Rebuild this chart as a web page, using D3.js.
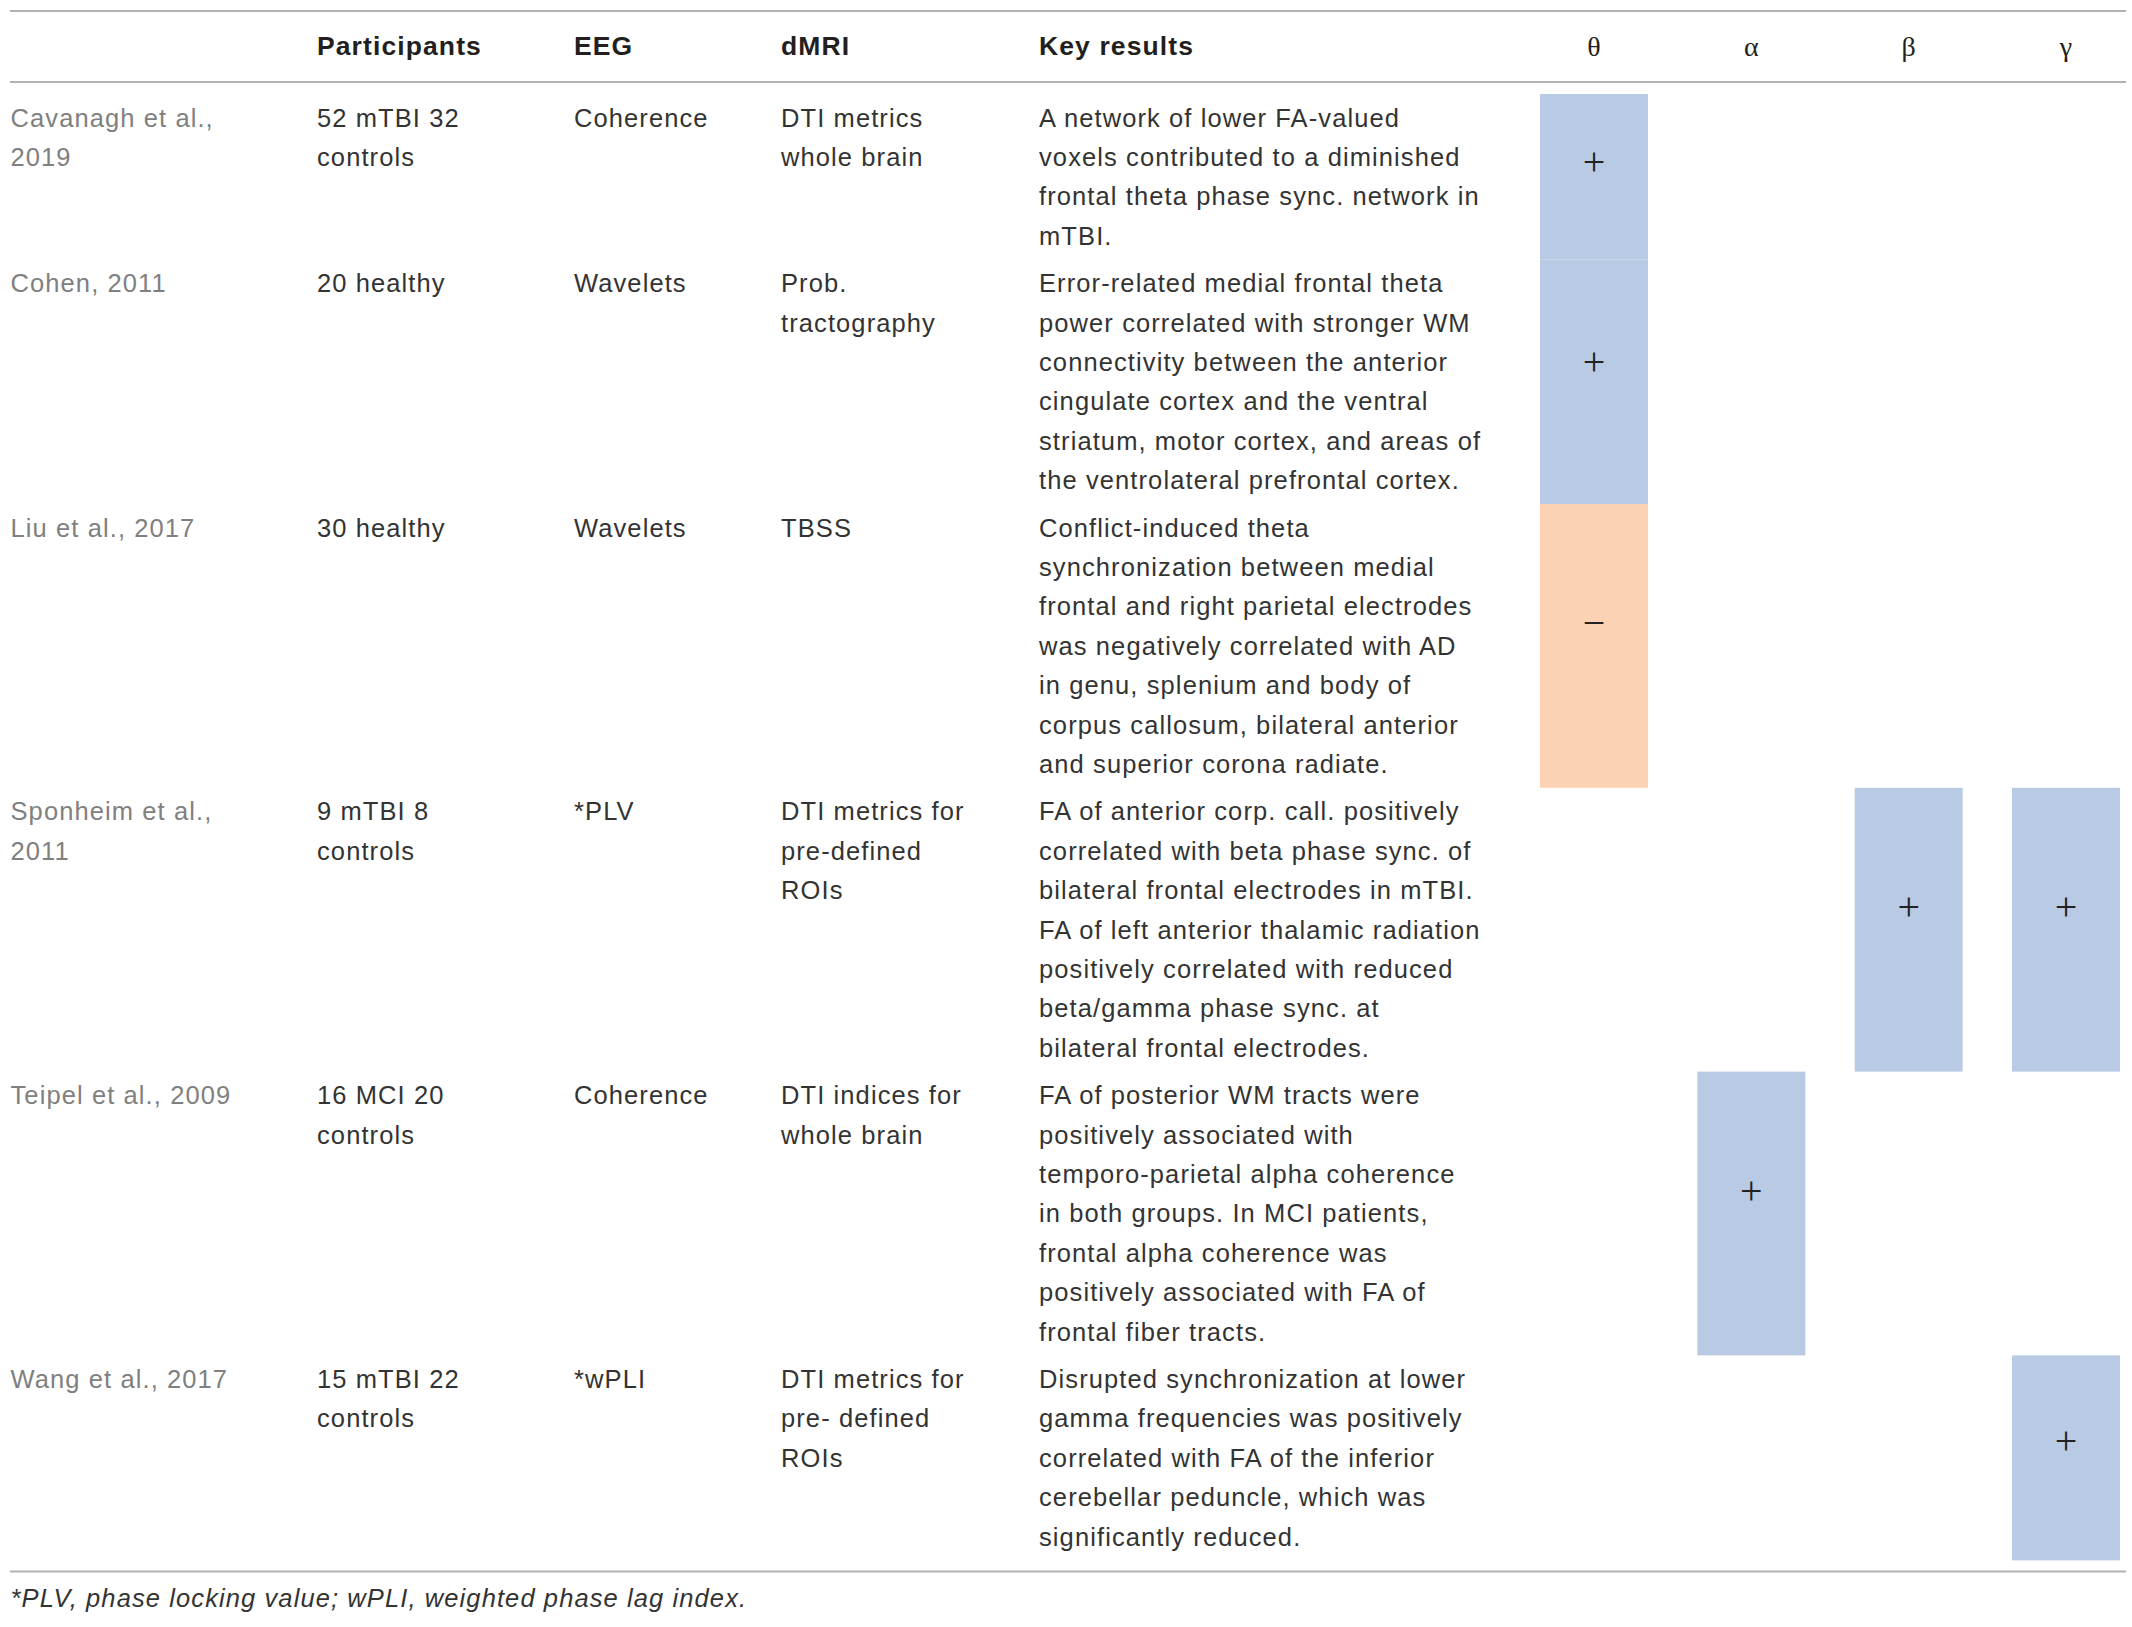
<!DOCTYPE html>
<html>
<head>
<meta charset="utf-8">
<script src="https://cdn.jsdelivr.net/npm/d3@7"></script>
<style>
	body { margin: 0; background: #fff; }
	svg { display: block; }
</style>
</head>
<body>
<div id="table"></div>
<script>

let width = 2132;
let height = 1627;

// table content, one entry per study (lines as wrapped in the original)
let studies = [
	['Cavanagh et al.,', '2019'],
	['Cohen, 2011'],
	['Liu et al., 2017'],
	['Sponheim et al.,', '2011'],
	['Teipel et al., 2009'],
	['Wang et al., 2017']
];

let participants = [
	['52 mTBI 32', 'controls'],
	['20 healthy'],
	['30 healthy'],
	['9 mTBI 8', 'controls'],
	['16 MCI 20', 'controls'],
	['15 mTBI 22', 'controls']
];

let eeg = ['Coherence', 'Wavelets', 'Wavelets', '*PLV', 'Coherence', '*wPLI'];

let dmri = [
	['DTI metrics', 'whole brain'],
	['Prob.', 'tractography'],
	['TBSS'],
	['DTI metrics for', 'pre-defined', 'ROIs'],
	['DTI indices for', 'whole brain'],
	['DTI metrics for', 'pre- defined', 'ROIs']
];

let results = [
	['A network of lower FA-valued', 'voxels contributed to a diminished', 'frontal theta phase sync. network in', 'mTBI.'],
	['Error-related medial frontal theta', 'power correlated with stronger WM', 'connectivity between the anterior', 'cingulate cortex and the ventral', 'striatum, motor cortex, and areas of', 'the ventrolateral prefrontal cortex.'],
	['Conflict-induced theta', 'synchronization between medial', 'frontal and right parietal electrodes', 'was negatively correlated with AD', 'in genu, splenium and body of', 'corpus callosum, bilateral anterior', 'and superior corona radiate.'],
	['FA of anterior corp. call. positively', 'correlated with beta phase sync. of', 'bilateral frontal electrodes in mTBI.', 'FA of left anterior thalamic radiation', 'positively correlated with reduced', 'beta/gamma phase sync. at', 'bilateral frontal electrodes.'],
	['FA of posterior WM tracts were', 'positively associated with', 'temporo-parietal alpha coherence', 'in both groups. In MCI patients,', 'frontal alpha coherence was', 'positively associated with FA of', 'frontal fiber tracts.'],
	['Disrupted synchronization at lower', 'gamma frequencies was positively', 'correlated with FA of the inferior', 'cerebellar peduncle, which was', 'significantly reduced.']
];

let headers = ['', 'Participants', 'EEG', 'dMRI', 'Key results'];
let bands = ['θ', 'α', 'β', 'γ'];

// sign of the association per band ('' = not reported)
let thetaSigns = ['+', '+', '−', '', '', ''];
let alphaSigns = ['', '', '', '', '+', ''];
let betaSigns = ['', '', '', '+', '', ''];
let gammaSigns = ['', '', '', '+', '', '+'];

let footnote = '*PLV, phase locking value; wPLI, weighted phase lag index.';

class Table
{
	constructor()
	{
		let self = this;

		self.lineHeight = 39.4;
		self.rowPad = 8;
		self.top = 94;
		self.colX = [10.5, 317, 574, 781, 1039];
		self.font = '"Liberation Sans", Arial, Helvetica, sans-serif';

		self.svg = d3.select('#table')
			.append('svg')
			.attr('width', width)
			.attr('height', height);

		// row geometry from the number of text lines in each study
		let lines = results.map(function (r, i)
		{
			return d3.max([r.length, studies[i].length, participants[i].length, dmri[i].length, 1]);
		});
		let heights = lines.map(function (n) { return n * self.lineHeight + self.rowPad; });
		let tops = [self.top].concat(Array.from(d3.cumsum(heights), function (h) { return self.top + h; }));
		self.rows = studies.map(function (s, i) { return {i: i, y: tops[i], h: heights[i]}; });
		self.bottom = tops[tops.length - 1];

		self.x = d3.scaleBand()
			.domain(bands)
			.range([1540, 2120])
			.paddingInner(0.3136)
			.paddingOuter(0);

		self.drawCells();
		self.drawRules();
		self.drawHeader();
		self.drawBody();
		self.drawFootnote();
	}

	drawCells()
	{
		let self = this;

		let signs = {'θ': thetaSigns, 'α': alphaSigns, 'β': betaSigns, 'γ': gammaSigns};
		let cells = [];
		bands.forEach(function (b)
		{
			signs[b].forEach(function (s, i)
			{
				if (s) cells.push({band: b, sign: s, row: self.rows[i]});
			});
		});

		let g = self.svg.append('g').attr('class', 'cells');

		g.selectAll('rect')
			.data(cells)
			.enter()
			.append('rect')
			.attr('x', function (d) { return self.x(d.band); })
			.attr('y', function (d) { return d.row.y; })
			.attr('width', self.x.bandwidth())
			.attr('height', function (d) { return d.row.h; })
			.attr('fill', function (d) { return d.sign === '+' ? '#b9cbe4' : '#fbd3b4'; });

		g.selectAll('text')
			.data(cells)
			.enter()
			.append('text')
			.attr('x', function (d) { return self.x(d.band) + self.x.bandwidth() / 2; })
			.attr('y', function (d) { return d.row.y + d.row.h * 0.43 + 10; })
			.attr('text-anchor', 'middle')
			.attr('font-family', '"Liberation Serif", "Times New Roman", serif')
			.attr('font-size', '40px')
			.attr('fill', '#222')
			.text(function (d) { return d.sign; });
	}

	drawRules()
	{
		let self = this;

		self.svg.append('g')
			.attr('class', 'rules')
			.selectAll('line')
			.data([11, 82, self.bottom + 11])
			.enter()
			.append('line')
			.attr('x1', 10)
			.attr('x2', 2126)
			.attr('y1', function (d) { return d; })
			.attr('y2', function (d) { return d; })
			.attr('stroke', '#b3b3b3')
			.attr('stroke-width', 2);
	}

	drawHeader()
	{
		let self = this;

		let g = self.svg.append('g').attr('class', 'header');

		g.selectAll('text.col')
			.data(headers)
			.enter()
			.append('text')
			.attr('class', 'col')
			.attr('x', function (d, i) { return self.colX[i]; })
			.attr('y', 55)
			.attr('font-family', self.font)
			.attr('font-weight', 'bold')
			.attr('font-size', '26.5px')
			.attr('letter-spacing', '1.1px')
			.attr('fill', '#231f20')
			.text(function (d) { return d; });

		g.selectAll('text.band')
			.data(bands)
			.enter()
			.append('text')
			.attr('class', 'band')
			.attr('x', function (d) { return self.x(d) + self.x.bandwidth() / 2; })
			.attr('y', 56)
			.attr('text-anchor', 'middle')
			.attr('font-family', '"Liberation Serif", "Times New Roman", serif')
			.attr('font-size', '28px')
			.attr('fill', '#231f20')
			.text(function (d) { return d; });
	}

	drawBody()
	{
		let self = this;

		let columns = [studies, participants, eeg.map(function (e) { return [e]; }), dmri, results];

		columns.forEach(function (col, c)
		{
			let g = self.svg.append('g').attr('class', 'col' + c);

			let blocks = g.selectAll('text')
				.data(col)
				.enter()
				.append('text')
				.attr('font-family', self.font)
				.attr('font-size', '25.5px')
				.attr('letter-spacing', '1.1px')
				.attr('fill', c === 0 ? '#808080' : '#333');

			blocks.selectAll('tspan')
				.data(function (d, i) { return d.map(function (t) { return {t: t, row: i}; }); })
				.enter()
				.append('tspan')
				.attr('x', self.colX[c])
				.attr('y', function (d, j) { return self.rows[d.row].y + 32.5 + j * self.lineHeight; })
				.text(function (d) { return d.t; });
		});
	}

	drawFootnote()
	{
		let self = this;

		self.svg.append('text')
			.attr('x', 10.5)
			.attr('y', self.bottom + 47)
			.attr('font-family', self.font)
			.attr('font-style', 'italic')
			.attr('font-size', '25.5px')
			.attr('letter-spacing', '1.1px')
			.attr('fill', '#333')
			.text(footnote);
	}
}

new Table();

</script>
</body>
</html>
